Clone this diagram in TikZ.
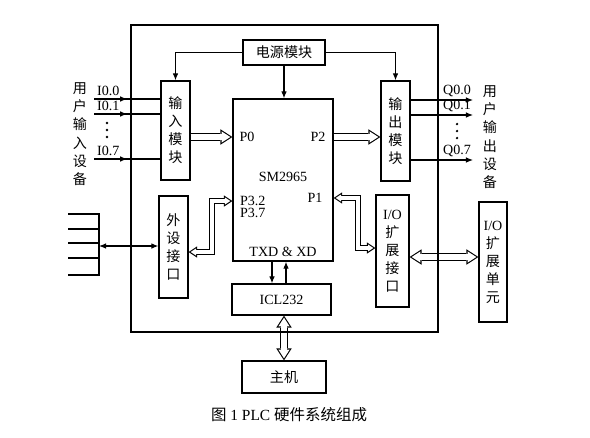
\documentclass[tikz,border=0pt]{standalone}
\usepackage{fontspec}
\setmainfont{Liberation Serif}
\newfontfamily\cjk{Noto Sans CJK SC}
\usetikzlibrary{arrows.meta,decorations.markings}
\tikzset{
  blk/.style={draw,line width=0.9pt,inner sep=0pt,align=center,font=\cjk\fontsize{10}{12.8}\selectfont},
  lbl/.style={inner sep=2pt,font=\fontsize{10}{12}\selectfont},
  side/.style={inner sep=0pt,align=center,font=\cjk\fontsize{10}{13}\selectfont},
  wire/.style={line width=0.8pt},
  feed/.style={wire,-{Latex[length=5pt,width=4pt]}},
  midarr/.style={wire,postaction={decorate},
    decoration={markings,mark=at position 0.5 with {\arrow{Latex[length=5pt,width=4pt]}}}},
  dot/.style={fill,circle,inner sep=0pt,minimum size=1.8pt},
  % hollow bus arrows: black outline under a white core
  hbo/.tip={Triangle[length=8.5pt,width=11pt,line width=0pt]},
  hbi/.tip={Triangle[length=6.2pt,width=8pt,line width=0pt]},
  hso/.tip={Triangle[length=6pt,width=8pt,line width=0pt]},
  hsi/.tip={Triangle[length=3.8pt,width=5pt,line width=0pt]},
  busR/.style={draw=white,line width=4pt,-{hbi},shorten >=1.47pt,
    preaction={draw=black,line width=5.6pt,-{hbo},shorten >=0pt}},
  busLR/.style={draw=white,line width=4pt,{hbi}-{hbi},shorten >=1.47pt,shorten <=1.47pt,
    preaction={draw=black,line width=5.6pt,{hbo}-{hbo},shorten >=0pt,shorten <=0pt}},
  portLR/.style={draw=white,line width=2.2pt,{hsi}-{hsi},shorten >=1.44pt,shorten <=1.44pt,
    preaction={draw=black,line width=3.8pt,{hso}-{hso},shorten >=0pt,shorten <=0pt}},
}
\begin{document}
\begin{tikzpicture}[x=0.025cm,y=-0.025cm]
\path[use as bounding box] (0,0) rectangle (590,437);
% blocks
\node[blk,minimum width=2.05cm,minimum height=0.625cm] (power) at (284,52.5) {电源模块};
\node[blk,minimum width=0.725cm,minimum height=2.475cm] (inmod) at (175.5,130.5) {输\\入\\模\\块};
\node[blk,minimum width=2.5cm,minimum height=4.05cm] (cpu) at (283,180) {};
\node[blk,minimum width=0.725cm,minimum height=2.5cm] (outmod) at (395.5,131) {输\\出\\模\\块};
\node[blk,minimum width=0.725cm,minimum height=2.55cm] (periph) at (173.5,247) {外\\设\\接\\口};
\node[blk,minimum width=0.825cm,minimum height=2.8cm] (ioif) at (392.5,251) {{\rmfamily I/O}\\扩\\展\\接\\口};
\node[blk,minimum width=0.7cm,minimum height=3.0cm] (iounit) at (493,262) {{\rmfamily I/O}\\扩\\展\\单\\元};
\node[blk,font=\fontsize{10}{12}\selectfont,minimum width=2.475cm,minimum height=0.775cm] (icl) at (281.5,299.5) {ICL232};
\node[blk,minimum width=2.1cm,minimum height=0.8cm] (host) at (284,377) {主机};
% labels inside the CPU
\node[lbl] (sm) at (283,177) {SM2965};
\node[lbl] (p0) at (247,137) {P0};
\node[lbl] (p2) at (318,137) {P2};
\node[lbl,anchor=west] (p32) at (237,201) {P3.2};
\node[lbl,anchor=west] (p37) at (237,213) {P3.7};
\node[lbl] (p1) at (315,198) {P1};
\node[lbl] (txd) at (283,252) {TXD \& XD};
% power supply
\draw[feed] (power.west) -| (inmod.north);
\draw[feed] (power.east) -| (outmod.north);
\draw[feed] (power.south) -- (power.south |- cpu.north);
% user inputs
\node[lbl,anchor=south west] (i00) at (94,99) {I0.0};
\node[lbl,anchor=south west] (i01) at (94,114) {I0.1};
\node[lbl,anchor=south west] (i07) at (94,159) {I0.7};
\foreach \y in {123,130,137}
  \node[dot] at (107,\y) {};
\foreach \n in {i00,i01,i07}
  \draw[midarr] (\n.south west) -- (\n.south west -| inmod.west);
\node[side] (usrin) at (80,134) {用\\户\\输\\入\\设\\备};
% user outputs
\coordinate (qend) at (473,0);
\node[lbl,anchor=south west] (q00) at (440,100) {Q0.0};
\node[lbl,anchor=south west] (q01) at (440,115) {Q0.1};
\node[lbl,anchor=south west] (q07) at (440,160) {Q0.7};
\foreach \y in {124,131,138}
  \node[dot] at (457,\y) {};
\foreach \n in {q00,q01,q07}
  \draw[feed] (outmod.east |- \n.south) -- (qend |- \n.south);
\node[side] (usrout) at (490,137) {用\\户\\输\\出\\设\\备};
% parallel data paths
\draw[busR] (inmod.east |- p0) -- (cpu.west |- p0);
\draw[busR] (cpu.east |- p2) -- (outmod.west |- p2);
\coordinate (kink1) at (212,252);
\draw[portLR] (periph.east |- kink1) -- (kink1) |- (cpu.west |- p32);
\coordinate (kink2) at (358,248);
\draw[portLR] (cpu.east |- p1) -| (kink2) -- (ioif.west |- kink2);
\coordinate (xbus) at (0,257);
\draw[busLR] (ioif.east |- xbus) -- (iounit.west |- xbus);
\draw[busLR] (host.north |- icl.south) -- (host.north);
% serial lines
\coordinate (tx) at (272,0);
\coordinate (rx) at (286,0);
\draw[feed] (tx |- cpu.south) -- (tx |- icl.north);
\draw[feed] (rx |- icl.north) -- (rx |- cpu.south);
% peripheral bus
\draw[wire] (68,214) -- (99,214) -- (99,275) -- (68,275);
\foreach \y in {229,243,258}
  \draw[wire] (68,\y) -- (99,\y);
\coordinate (bus) at (99,246);
\draw[wire,{Latex[length=5pt,width=4pt]}-{Latex[length=5pt,width=4pt]}] (bus) -- (periph.west |- bus);
% PLC frame
\draw[line width=1.1pt] (131,25) rectangle (438,332);
% caption
\node[font=\fontsize{11}{13}\selectfont] (cap) at (289,415) {{\cjk 图} 1 PLC {\cjk 硬件系统组成}};
\end{tikzpicture}
\end{document}
